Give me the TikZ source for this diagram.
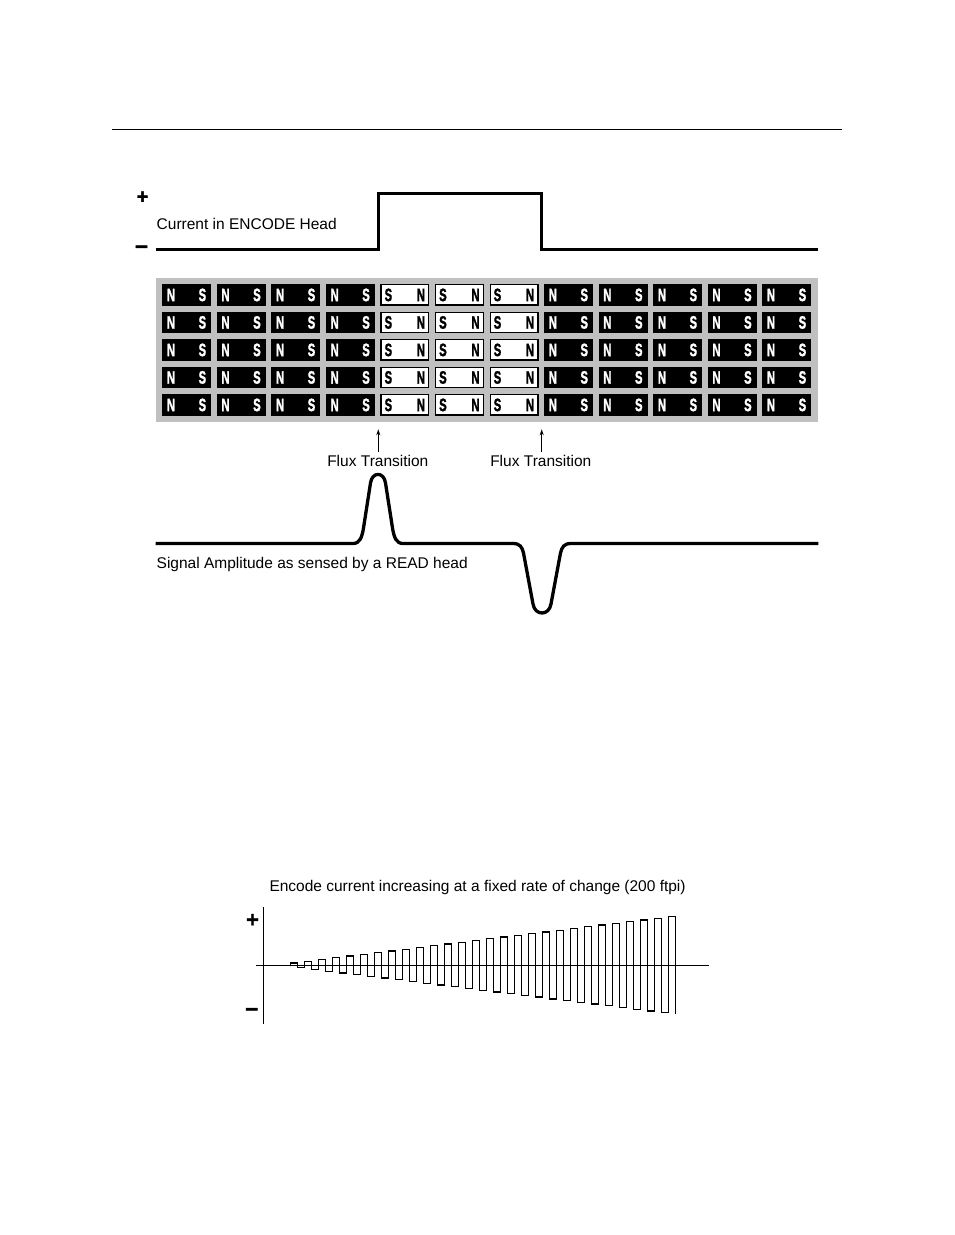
\documentclass[tikz,border=0pt]{standalone}
\usepackage{fontspec}
\setmainfont{Liberation Sans}[BoldFont={Liberation Sans Bold}]
\newfontfamily\magfont{Liberation Sans}[BoldFont={Liberation Sans Bold}, BoldFeatures={FakeBold=1.6}]
\usepackage{graphicx}
\usetikzlibrary{arrows.meta}
\definecolor{magbg}{RGB}{192,192,192}
\newcommand{\magletter}[1]{{\magfont\fontsize{18}{18}\selectfont\bfseries\scalebox{0.63}[1]{#1}}}
\begin{document}
\begin{tikzpicture}[x=1pt,y=-1pt,
  lbl/.style={font=\fontsize{15.5}{18}\selectfont, inner sep=0pt},
  sign/.style={inner sep=0pt},
  heavyline/.style={line width=3.3pt, line join=miter, line cap=butt},
  sigline/.style={line width=3.3pt, line join=round, line cap=butt},
  thinline/.style={line width=1.3pt},
  fluxarrow/.style={line width=1pt, -{Stealth[length=6pt,width=4pt]}},
  blackmag/.style={fill=black, draw=none, minimum width=49pt, minimum height=21.5pt, inner sep=0pt},
  whitemag/.style={fill=white, draw=black, line width=1.2pt, minimum width=47.8pt, minimum height=20.3pt, inner sep=0pt},
  magtxt/.style={inner sep=0pt, anchor=base}
]
\useasboundingbox (0,0) rectangle (954,1235);

% top rule
\draw[thinline] (112,129.3) -- (842,129.3);

% ---- Encode head current ----
\node[sign, font=\magfont\fontsize{20}{20}\selectfont\bfseries] (plusA) at (142.5,197.5) {+};
\node[sign, font=\magfont\fontsize{23}{23}\selectfont\bfseries] (minusA) at (141.5,249.3) {–};
\node[lbl, anchor=base west] (enclbl) at (156.5,229) {Current in ENCODE Head};
\draw[heavyline] (155.5,249.3) -- (378.2,249.3) -- (378.2,193.3) -- (541.7,193.3) -- (541.7,249.3) -- (818.3,249.3);

% ---- magnet grid ----
\node[fill=magbg, minimum width=662pt, minimum height=143.5pt, inner sep=0pt, anchor=north west] (grid) at (156,278) {};
\foreach \r in {0,...,4}{
  \foreach \c in {0,...,11}{
    \pgfmathsetmacro\mx{186.7+54.55*\c}
    \pgfmathsetmacro\my{294.75+27.5*\r}
    \pgfmathtruncatemacro\isw{(\c>3)&&(\c<7)}
    \ifnum\isw=1
      \node[whitemag] (m-\r-\c) at (\mx,\my) {};
      \node[magtxt, text=black] (m-\r-\c-l) at ([xshift=8pt,yshift=-6.4pt]m-\r-\c.center -| m-\r-\c.west) {\magletter{S}};
      \node[magtxt, text=black] (m-\r-\c-r) at ([xshift=-8.5pt,yshift=-6.4pt]m-\r-\c.center -| m-\r-\c.east) {\magletter{N}};
    \else
      \node[blackmag] (m-\r-\c) at (\mx,\my) {};
      \node[magtxt, text=white] (m-\r-\c-l) at ([xshift=9pt,yshift=-6.4pt]m-\r-\c.center -| m-\r-\c.west) {\magletter{N}};
      \node[magtxt, text=white] (m-\r-\c-r) at ([xshift=-9pt,yshift=-6.4pt]m-\r-\c.center -| m-\r-\c.east) {\magletter{S}};
    \fi
  }
}

% ---- flux transitions ----
\node[lbl, anchor=base] (ft1) at (377.8,466.7) {Flux Transition};
\node[lbl, anchor=base] (ft2) at (540.8,466.7) {Flux Transition};
\coordinate (tip1) at (378.3,429.3);
\coordinate (tip2) at (541.7,429.3);
\draw[fluxarrow] (tip1 |- 0,451.7) -- (tip1);
\draw[fluxarrow] (tip2 |- 0,451.7) -- (tip2);

% ---- read signal ----
\draw[sigline] (155.5,543.5) -- (353,543.5)
  .. controls (360,543.5) and (362,537) .. (363.5,528)
  -- (370.5,483)
  .. controls (372,471.5) and (384,471.5) .. (385.5,483)
  -- (392.5,528)
  .. controls (394,537) and (396,543.5) .. (403,543.5)
  -- (513,543.5)
  .. controls (520,543.5) and (522,547) .. (523.5,553)
  -- (533,604)
  .. controls (535,616) and (549,616) .. (551,604)
  -- (560.5,553)
  .. controls (562,547) and (564,543.5) .. (571,543.5)
  -- (818.3,543.5);
\node[lbl, anchor=base west] (siglbl) at (156.5,568.3) {Signal Amplitude as sensed by a READ head};

% ---- bottom chart ----
\node[lbl, anchor=base west] (title) at (269.3,891.7) {Encode current increasing at a fixed rate of change (200 ftpi)};
\node[sign, font=\magfont\fontsize{22}{22}\selectfont\bfseries] (plusB) at (252.5,920.5) {+};
\node[sign, font=\magfont\fontsize{23}{23}\selectfont\bfseries] (minusB) at (251.7,1011.7) {–};
\draw[thinline] (263.5,907) -- (263.5,1024);
\draw[thinline] (256,965.5) -- (709,965.5);
\draw[thinline, line join=miter] (290.5,965.5)
  \foreach \k in {0,...,27}{
    -- ({290.5+14*\k},{965.5+2.2+1.73*(\k-1)})
    -- ({290.5+14*\k},{965.5-2.6-1.72*\k})
    -- ({297.5+14*\k},{965.5-2.6-1.72*\k})
    -- ({297.5+14*\k},{965.5+2.2+1.73*\k})
  };
\end{tikzpicture}
\end{document}
